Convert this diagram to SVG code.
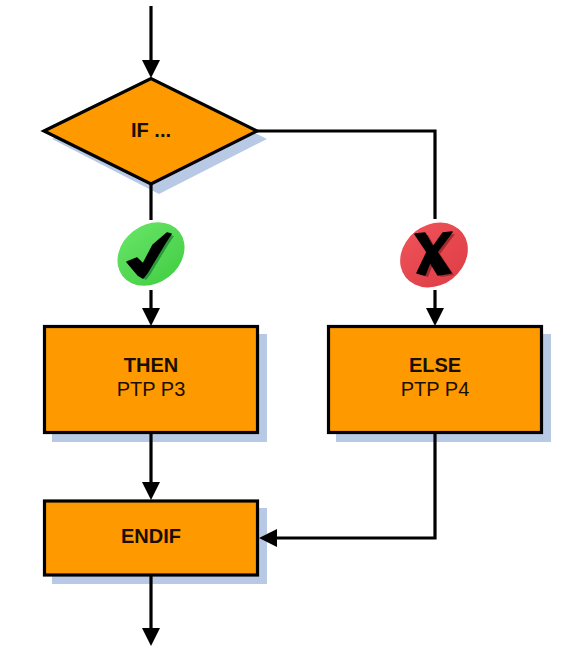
<svg xmlns="http://www.w3.org/2000/svg" width="569" height="661" viewBox="0 0 569 661">
<defs>
<style>
.shape{fill:#ff9900;stroke:#000;stroke-width:3.200;stroke-linejoin:miter}
.shadow{fill:#b8c9e5}
.conn{fill:none;stroke:#000;stroke-width:3.200}
.head{fill:#000}
.mark{stroke-linejoin:round;stroke-width:1.500}
text{font-family:"Liberation Sans",Arial,sans-serif;font-size:20px;fill:#1a0e00;text-anchor:middle}
.b{font-weight:bold}
</style>
<linearGradient id="g" x1="0" y1="0" x2="0" y2="1"><stop offset="0" stop-color="#62e262"/><stop offset="1" stop-color="#48d048"/></linearGradient>
<linearGradient id="r" x1="0" y1="0" x2="0" y2="1"><stop offset="0" stop-color="#ee5058"/><stop offset="1" stop-color="#e04048"/></linearGradient>
<path id="tick" d="M127 262L137 258L143 264L153 245L167 233L171 234L165 243L147 273L143 278L138 275Z"/>
<path id="cross" d="M415 234L425 233L433 247L443 233L452 232L437 252L451 273L438 275L430 262L425 275L417 273L427 252Z"/>
</defs>
<rect width="569" height="661" fill="#fff"/>
<g id="if">
<path class="shadow" d="M52 139L159 86L267 139L159 194Z"/>
<path class="shape" d="M44 131L151 78.500L257 131L151 184Z"/>
<text class="b" x="151" y="137">IF ...</text>
</g>
<g id="then">
<rect class="shadow" x="52" y="334" width="215" height="108"/>
<rect class="shape" x="44.500" y="326.500" width="213" height="106"/>
<text class="b" x="151" y="372">THEN</text>
<text x="151" y="396">PTP P3</text>
</g>
<g id="else">
<rect class="shadow" x="336" y="334" width="215" height="108"/>
<rect class="shape" x="328.500" y="326.500" width="213" height="106"/>
<text class="b" x="435" y="372">ELSE</text>
<text x="435" y="396">PTP P4</text>
</g>
<g id="endif">
<rect class="shadow" x="52" y="508" width="215" height="76"/>
<rect class="shape" x="44.500" y="501" width="213" height="74"/>
<text class="b" x="151" y="543">ENDIF</text>
</g>
<g id="yes">
<ellipse cx="151" cy="254" rx="36" ry="29" transform="rotate(-38 151 254)" fill="url(#g)"/>
<use href="#tick" x="3" y="2" fill="#2a9a3a"/>
<use href="#tick" class="mark" fill="#000" stroke="#000"/>
</g>
<g id="no">
<ellipse cx="434" cy="255" rx="36" ry="30" transform="rotate(-38 434 255)" fill="url(#r)"/>
<use href="#cross" x="3" y="2" fill="#a52a30"/>
<use href="#cross" class="mark" fill="#000" stroke="#000"/>
</g>
<g id="connectors">
<path class="conn" d="M151 6V62"/><path class="head" d="M142 60H160L151 78Z"/>
<path class="conn" d="M257 131H435V219"/>
<path class="conn" d="M151 184V220"/>
<path class="conn" d="M151 290V309"/><path class="head" d="M142 308H160L151 326Z"/>
<path class="conn" d="M435 290V309"/><path class="head" d="M426 308H444L435 326Z"/>
<path class="conn" d="M151 433V484"/><path class="head" d="M142 482H160L151 500Z"/>
<path class="conn" d="M435 433V538H274"/><path class="head" d="M277 529V547L259 538Z"/>
<path class="conn" d="M151 575V630"/><path class="head" d="M142 628H160L151 646Z"/>
</g>
</svg>
